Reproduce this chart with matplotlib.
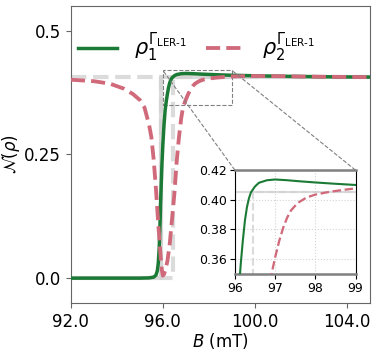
import matplotlib
matplotlib.use("Agg")
import matplotlib.pyplot as plt
from mpl_toolkits.axes_grid1.inset_locator import mark_inset

B1 = [92.0, 94.0, 95.0, 95.4, 95.6, 95.7, 95.76, 95.8, 95.84, 95.87, 95.9,
      95.93, 95.96, 96.0, 96.05, 96.1, 96.15, 96.2, 96.25, 96.3, 96.35, 96.4,
      96.5, 96.6, 96.8, 97.0, 97.3, 97.6, 98.0, 98.5, 99.0, 100.0, 101.0,
      102.0, 103.0, 104.0, 105.0]
RHO1 = [0.0, 0.0, 0.0, 0.0005, 0.002, 0.006, 0.015, 0.03, 0.06, 0.10, 0.15,
        0.19, 0.23, 0.27, 0.31, 0.34, 0.358, 0.373, 0.386, 0.395, 0.401, 0.405,
        0.409, 0.4115, 0.4132, 0.4137, 0.4132, 0.4125, 0.4117, 0.4108, 0.4100,
        0.4090, 0.4081, 0.4075, 0.4070, 0.4066, 0.4063]

B2 = [92.0, 93.0, 93.7, 94.3, 94.7, 95.0, 95.2, 95.4, 95.5, 95.6, 95.7, 95.8,
      95.9, 95.96, 96.0, 96.05, 96.1, 96.2, 96.3, 96.4, 96.5, 96.6, 96.7,
      96.8, 96.88, 97.0, 97.1, 97.2, 97.3, 97.4, 97.5, 97.6, 97.78, 98.0,
      98.36, 98.7, 99.0, 100.0, 101.0, 102.0, 103.0, 104.0, 105.0]
RHO2 = [0.401, 0.398, 0.393, 0.383, 0.372, 0.360, 0.345, 0.310, 0.285, 0.240,
        0.180, 0.110, 0.045, 0.015, 0.005, 0.008, 0.015, 0.035, 0.070, 0.120,
        0.170, 0.235, 0.285, 0.324, 0.346, 0.361, 0.372, 0.381, 0.388, 0.393,
        0.396, 0.3985, 0.4015, 0.4035, 0.4054, 0.4067, 0.4077, 0.4085, 0.4082,
        0.4075, 0.4070, 0.4066, 0.4063]

# ideal step references
STEP1_B = [92.0, 95.93, 95.93, 105.0]
STEP1 = [0.0, 0.0, 0.4055, 0.4055]
STEP2_B = [92.0, 95.93, 95.93, 96.45, 96.45, 105.0]
STEP2 = [0.4055, 0.4055, 0.0, 0.0, 0.4055, 0.4055]

GREEN = "#1b7a35"
PINK = "#d06a7b"
LABEL1 = r"$\rho_1^{\Gamma_{\rm LER\text{-}1}}$"
LABEL2 = r"$\rho_2^{\Gamma_{\rm LER\text{-}1}}$"


def draw(ax, lw_main, lw_ref):
    ax.plot(STEP1_B, STEP1, color="lightgray", lw=lw_ref, alpha=0.8, zorder=1)
    ax.plot(STEP2_B, STEP2, color="lightgray", lw=lw_ref, ls="--", alpha=0.8,
            zorder=1)
    l1, = ax.plot(B1, RHO1, color=GREEN, lw=lw_main, zorder=3)
    l2, = ax.plot(B2, RHO2, color=PINK, lw=lw_main * 1.1, ls="--", zorder=4)
    return l1, l2


fig = plt.figure(figsize=(3.77, 3.53), dpi=100)
ax = fig.add_axes([0.188, 0.142, 0.793, 0.841])
l1, l2 = draw(ax, 2.5, 3)
ax.set_xlim(92, 105)
ax.set_ylim(-0.05, 0.55)
ax.set_xticks([92, 96, 100, 104])
ax.set_xticklabels(["92.0", "96.0", "100.0", "104.0"])
ax.set_yticks([0.0, 0.25, 0.5])
ax.set_yticklabels(["0.0", "0.25", "0.5"])
ax.tick_params(labelsize=12, color="0.4")
for s in ax.spines.values():
    s.set_color("0.4")
ax.set_xlabel(r"$B$ (mT)", fontsize=12, labelpad=0)
ax.set_ylabel(r"$\mathcal{N}(\rho)$", fontsize=12, labelpad=2)
ax.legend([l1, l2], [LABEL1, LABEL2], loc="upper left", ncol=2, frameon=False,
          fontsize=15, handlelength=1.9, columnspacing=0.9,
          bbox_to_anchor=(-0.04, 0.978))

axins = fig.add_axes([0.623, 0.224, 0.320, 0.294])
draw(axins, 1.5, 1.5)
axins.set_xlim(96, 99)
axins.set_ylim(0.35, 0.42)
axins.set_xticks([96, 97, 98, 99])
axins.set_yticks([0.36, 0.38, 0.40, 0.42])
axins.set_yticklabels(["0.36", "0.38", "0.40", "0.42"])
axins.tick_params(labelsize=9, pad=2)
axins.grid(ls=":", color="lightgray", lw=0.8)
for side in ["top", "bottom"]:
    axins.spines[side].set_color("gray")
    axins.spines[side].set_linewidth(1.8)

mark_inset(ax, axins, loc1=2, loc2=1, fc="none", ec="gray", ls="--", lw=0.8)

fig.savefig("out.png", dpi=100)
